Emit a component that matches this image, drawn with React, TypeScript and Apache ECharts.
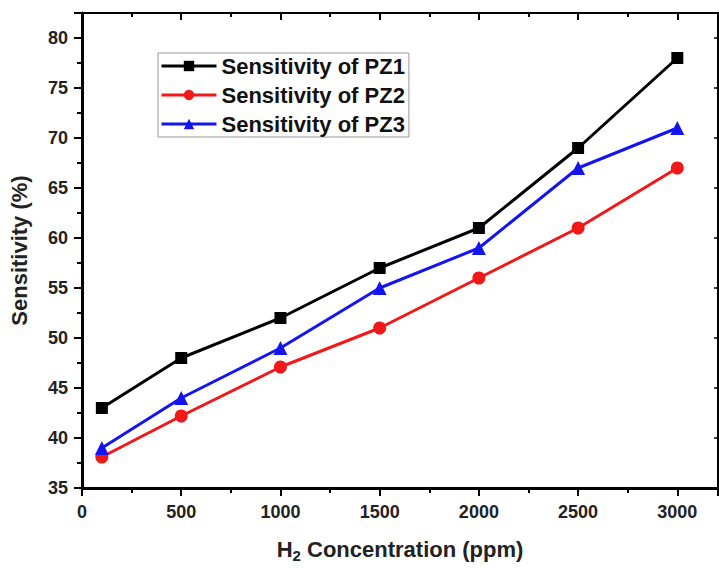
import React, { useEffect, useRef } from "react";
import * as echarts from "echarts";

const concentrations = [100, 500, 1000, 1500, 2000, 2500, 3000];
const pz1 = [43, 48, 52, 57, 61, 69, 78];
const pz2 = [38.1, 42.2, 47.1, 51, 56, 61, 67];
const pz3 = [39, 44, 49, 55, 59, 67, 71];
const seriesNames = ["Sensitivity of PZ1", "Sensitivity of PZ2", "Sensitivity of PZ3"];

const pairs = (ys: number[]) => concentrations.map((x, i) => [x, ys[i]]);

export default function App() {
  const ref = useRef<HTMLDivElement>(null);
  useEffect(() => {
    if (!ref.current) return;
    const chart = echarts.init(ref.current, null, { renderer: "svg" });
    const font = "Arial, 'Liberation Sans', sans-serif";
    const labelStyle = { fontFamily: font, fontWeight: "bold" as const, fontSize: 18, color: "#222" };
    chart.setOption({
      animation: false,
      backgroundColor: "#fff",
      grid: { left: 80, right: 1, top: 13, bottom: 75 },
      legend: {
        orient: "vertical",
        left: 158,
        top: 53,
        padding: [2, 4, 2, 2],
        itemGap: 7,
        itemWidth: 55,
        itemHeight: 13,
        borderColor: "#999",
        borderWidth: 1,
        lineStyle: { width: 3 },
        textStyle: { fontFamily: font, fontWeight: "bold", fontSize: 22, lineHeight: 22, color: "#111" },
        data: seriesNames,
      },
      xAxis: [
        {
          type: "value",
          min: 0,
          max: 3205,
          interval: 500,
          position: "bottom",
          splitLine: { show: false },
          axisLine: { onZero: false, lineStyle: { color: "#000", width: 3 } },
          axisTick: { inside: false, length: 8, lineStyle: { width: 2, color: "#000" } },
          minorTick: { show: true, splitNumber: 2, length: 5, lineStyle: { width: 2, color: "#000" } },
          axisLabel: {
            ...labelStyle,
            margin: 15,
            showMaxLabel: false,
            formatter: (v: number) => (v % 500 === 0 && v <= 3000 ? String(v) : ""),
          },
          name: "{a|H}{s|2}{a| Concentration (ppm)}",
          nameLocation: "middle",
          nameGap: 48,
          nameTextStyle: {
            rich: {
              a: { fontFamily: font, fontWeight: "bold", fontSize: 22, color: "#222" },
              s: { fontFamily: font, fontWeight: "bold", fontSize: 15, color: "#222", padding: [12, 0, 0, 0] },
            },
          },
        },
        {
          type: "value",
          min: 0,
          max: 3205,
          interval: 500,
          position: "top",
          splitLine: { show: false },
          axisLine: { onZero: false, lineStyle: { color: "#000", width: 2 } },
          axisTick: { inside: true, length: 7, lineStyle: { width: 2, color: "#000" } },
          minorTick: { show: true, splitNumber: 2, length: 4, lineStyle: { width: 2, color: "#000" } },
          axisLabel: { show: false },
        },
      ],
      yAxis: [
        {
          type: "value",
          min: 35,
          max: 82.5,
          interval: 5,
          position: "left",
          splitLine: { show: false },
          axisLine: { onZero: false, lineStyle: { color: "#000", width: 3 } },
          axisTick: { inside: false, length: 8, lineStyle: { width: 2, color: "#000" } },
          minorTick: { show: true, splitNumber: 2, length: 5, lineStyle: { width: 2, color: "#000" } },
          axisLabel: {
            ...labelStyle,
            margin: 14,
            showMaxLabel: false,
            formatter: (v: number) => (v % 5 === 0 && v <= 80 ? String(v) : ""),
          },
          name: "Sensitivity (%)",
          nameLocation: "middle",
          nameGap: 52,
          nameTextStyle: { fontFamily: font, fontWeight: "bold", fontSize: 22, color: "#222" },
        },
        {
          type: "value",
          min: 35,
          max: 82.5,
          interval: 5,
          position: "right",
          splitLine: { show: false },
          axisLine: { onZero: false, lineStyle: { color: "#000", width: 2 } },
          axisTick: { inside: true, length: 4, lineStyle: { width: 1.5, color: "#000" } },
          axisLabel: { show: false },
        },
      ],
      series: [
        {
          name: seriesNames[0],
          type: "line",
          data: pairs(pz1),
          symbol: "rect",
          symbolSize: 12,
          color: "#000000",
          lineStyle: { width: 3 },
        },
        {
          name: seriesNames[1],
          type: "line",
          data: pairs(pz2),
          symbol: "circle",
          symbolSize: 13,
          color: "#f01818",
          lineStyle: { width: 3 },
        },
        {
          name: seriesNames[2],
          type: "line",
          data: pairs(pz3),
          symbol: "triangle",
          symbolSize: 14,
          color: "#1414f0",
          lineStyle: { width: 3 },
        },
      ],
    });
    return () => chart.dispose();
  }, []);
  return <div ref={ref} style={{ width: 719, height: 568, position: "fixed", left: 0, top: 0 }} />;
}
